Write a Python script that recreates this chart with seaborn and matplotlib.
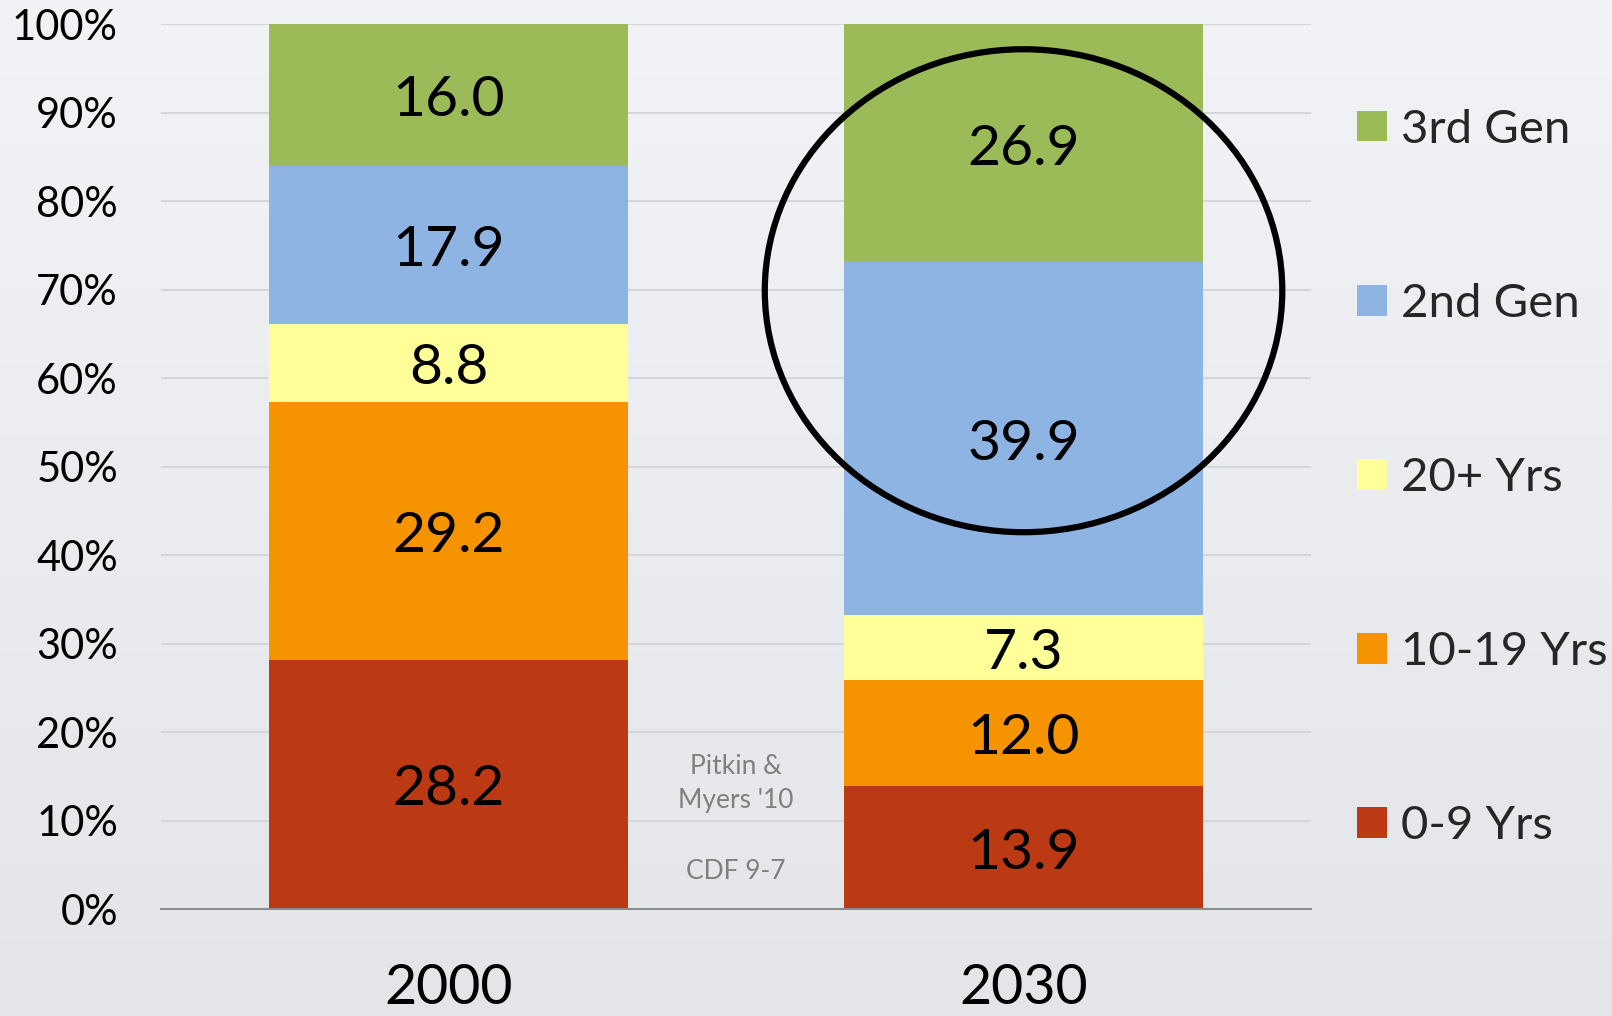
import numpy as np
import pandas as pd
import seaborn as sns
import matplotlib.pyplot as plt
from matplotlib.patches import Ellipse, Patch

# values (percent of each year's total)
years = ['2000', '2030']
series = ['0-9 Yrs', '10-19 Yrs', '20+ Yrs', '2nd Gen', '3rd Gen']
vals_0_9 = [28.2, 13.9]
vals_10_19 = [29.2, 12.0]
vals_20_plus = [8.8, 7.3]
vals_2nd_gen = [17.9, 39.9]
vals_3rd_gen = [16.0, 26.9]
colors = ['#BC3A13', '#F59300', '#FFFF99', '#8EB4E3', '#9BBB59']
y_ticks = [0, 10, 20, 30, 40, 50, 60, 70, 80, 90, 100]
y_tick_labels = [f'{t}%' for t in y_ticks]
note_source = "Pitkin &\nMyers '10"
note_ref = 'CDF 9-7'


def build_frame():
    """
    Long table with the segment share, its top edge and centre for each bar.
    """
    raw = pd.DataFrame({
        '0-9 Yrs': vals_0_9, '10-19 Yrs': vals_10_19, '20+ Yrs': vals_20_plus,
        '2nd Gen': vals_2nd_gen, '3rd Gen': vals_3rd_gen,
    }, index=years)
    share = raw.div(raw.sum(axis=1), axis=0) * 100
    top = share.cumsum(axis=1)
    mid = top - share / 2
    df = pd.DataFrame({
        'year': np.repeat(years, len(series)),
        'group': series * len(years),
        'value': raw.values.ravel(),
        'top': top.values.ravel(),
        'mid': mid.values.ravel(),
    })
    return df


def draw(df):
    sns.set_theme(style='white')
    plt.rcParams['font.family'] = ['Lato', 'DejaVu Sans']

    fig = plt.figure(figsize=(16.12, 10.16), dpi=100)

    # soft slide background
    bg = fig.add_axes([0, 0, 1, 1], zorder=-10)
    grad = np.linspace(0, 1, 256).reshape(-1, 1)
    bg.imshow(grad, aspect='auto', extent=[0, 1, 0, 1],
              cmap=sns.blend_palette(['#F2F3F6', '#E3E5E9'], as_cmap=True))
    bg.axis('off')

    ax = fig.add_axes([0.0999, 0.1053, 0.7134, 0.8706])
    ax.set_facecolor('none')

    # layered bars: draw the tallest cumulative first, lower segments on top
    for name, col in reversed(list(zip(series, colors))):
        sub = df[df['group'] == name]
        sns.barplot(data=sub, x='year', y='top', order=years, color=col,
                    width=0.623, saturation=1, ax=ax, zorder=3,
                    edgecolor='none', linewidth=0)

    for _, row in df.iterrows():
        ax.annotate(f"{row['value']:.1f}", (years.index(row['year']), row['mid']),
                    xytext=(0, -4), textcoords='offset points',
                    ha='center', va='center', fontsize=41, color='black', zorder=5)

    ax.set_xlim(-0.5, 1.5)
    ax.set_ylim(0, 100)
    ax.set_yticks(y_ticks)
    ax.set_yticklabels(y_tick_labels)
    ax.set_xlabel('')
    ax.set_ylabel('')
    ax.yaxis.grid(True, color='#D4D6D9', linewidth=1.5, zorder=0)
    ax.set_axisbelow(True)
    ax.tick_params(axis='y', length=0, pad=31, labelsize=30, labelcolor='black')
    ax.tick_params(axis='x', length=0, pad=39, labelsize=40, labelcolor='black')
    for side in ['top', 'right', 'left']:
        ax.spines[side].set_visible(False)
    ax.spines['bottom'].set_color('#8C8C8C')
    ax.spines['bottom'].set_linewidth(1.5)
    ax.spines['bottom'].set_zorder(6)

    # highlight ring round the second-generation shares of 2030
    ring = Ellipse((1.0, 69.9), width=0.9, height=54.6, fill=False,
                   edgecolor='black', linewidth=4.5, zorder=7, clip_on=False)
    ax.add_patch(ring)

    ax.text(0.5, 14.2, note_source, ha='center', va='center', fontsize=19,
            color='#7F7F7F', linespacing=1.48, zorder=5)
    ax.text(0.5, 4.2, note_ref, ha='center', va='center', fontsize=19,
            color='#7F7F7F', zorder=5)

    handles = [Patch(facecolor=c, edgecolor='none') for c in colors]
    fig.legend(handles[::-1], series[::-1], loc='center left',
               bbox_to_anchor=(0.842, 0.5295), frameon=False, fontsize=34,
               handlelength=0.63, handleheight=0.63, handletextpad=0.3,
               labelspacing=2.8, borderpad=0, borderaxespad=0)

    fig.savefig('out.png', dpi=100, facecolor=fig.get_facecolor())
    plt.close(fig)


def main():
    df = build_frame()
    draw(df)


if __name__ == '__main__':
    main()
